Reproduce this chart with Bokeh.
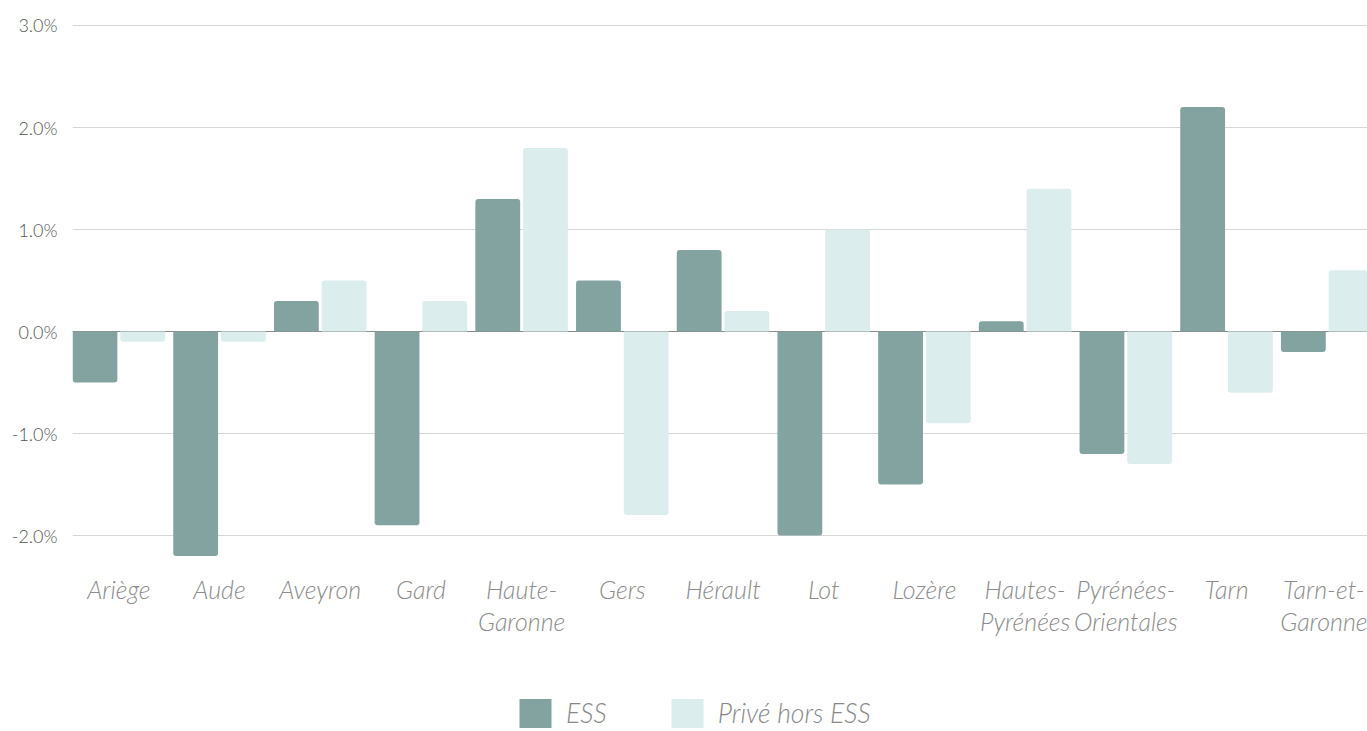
from bokeh.plotting import figure
from bokeh.layouts import column
from bokeh.models import (FixedTicker, PrintfTickFormatter, Span, Legend, LegendItem, Range1d)
from bokeh.embed import file_html
from bokeh.resources import INLINE

categories = ["Ariège", "Aude", "Aveyron", "Gard", "Haute-\nGaronne", "Gers", "Hérault",
              "Lot", "Lozère", "Hautes-\nPyrénées", "Pyrénées-\nOrientales", "Tarn",
              "Tarn-et-\nGaronne"]
ess = [-0.5, -2.2, 0.3, -1.9, 1.3, 0.5, 0.8, -2.0, -1.5, 0.1, -1.2, 2.2, -0.2]
prive = [-0.1, -0.1, 0.5, 0.3, 1.8, -1.8, 0.2, 1.0, -0.9, 1.4, -1.3, -0.6, 0.6]
y_ticks = [-2, -1, 0, 1, 2, 3]
series_names = ["ESS", "Privé hors ESS"]
colors = ["#82a39f", "#dbeeed"]

W = 1367
H1, H2 = 650, 81
p = figure(width=W, height=H1, output_backend="svg", toolbar_location=None,
           x_range=Range1d(-0.46, 12.40), y_range=Range1d(-2.245, 3.049),
           min_border_left=72, min_border_top=20, min_border_bottom=90, min_border_right=0)
p.outline_line_color = None
p.background_fill_color = "white"
p.border_fill_color = "white"

bar_w = 0.445
offsets = [-0.237, 0.237]
for vals, off, col in zip([ess, prive], offsets, colors):
    pos_x = [i + off for i, v in enumerate(vals) if v >= 0]
    pos_v = [v for v in vals if v >= 0]
    neg_x = [i + off for i, v in enumerate(vals) if v < 0]
    neg_v = [v for v in vals if v < 0]
    p.vbar(x=pos_x, top=pos_v, bottom=0, width=bar_w, fill_color=col,
           line_color=None, border_radius=(3, 3, 0, 0))
    p.vbar(x=neg_x, top=0, bottom=neg_v, width=bar_w, fill_color=col,
           line_color=None, border_radius=(0, 0, 3, 3))

p.add_layout(Span(location=0, dimension="width", line_color="#8a8a8a", line_width=1,
                  level="underlay"))

# axes
p.xaxis.ticker = FixedTicker(ticks=list(range(len(categories))))
p.xaxis.major_label_overrides = {i: c for i, c in enumerate(categories)}
p.xaxis.axis_line_color = None
p.xaxis.major_tick_line_color = None
p.xaxis.minor_tick_line_color = None
p.xaxis.major_label_text_font = "Lato Light"
p.xaxis.major_label_text_font_style = "italic"
p.xaxis.major_label_text_font_size = "25px"
p.xaxis.major_label_text_color = "#8c8c8c"
p.xaxis.major_label_text_line_height = 1.07
p.xaxis.major_label_standoff = 7
p.xgrid.grid_line_color = None

p.yaxis.ticker = FixedTicker(ticks=y_ticks)
p.yaxis.formatter = PrintfTickFormatter(format="%.1f%%")
p.yaxis.axis_line_color = None
p.yaxis.major_tick_line_color = None
p.yaxis.minor_tick_line_color = None
p.yaxis.major_label_text_font = "Lato Light"
p.yaxis.major_label_text_font_size = "18px"
p.yaxis.major_label_text_color = "#555555"
p.yaxis.major_label_standoff = 9
p.ygrid.ticker = FixedTicker(ticks=y_ticks)
p.ygrid.grid_line_color = "#d6d6d6"
p.ygrid.grid_line_width = 1

# legend figure (swatches only; its dummy glyphs have zero height)
lf = figure(width=W, height=H2, output_backend="svg", toolbar_location=None,
            x_range=Range1d(0, 1), y_range=Range1d(0, 1),
            min_border=0, x_axis_type=None, y_axis_type=None)
lf.outline_line_color = None
lf.xgrid.visible = False
lf.ygrid.visible = False
lrs = [lf.vbar(x=[-1], top=[0], bottom=[0], width=0.1, fill_color=c, line_color=None)
       for c in colors]
legend = Legend(items=[LegendItem(label=n, renderers=[r]) for n, r in zip(series_names, lrs)],
                orientation="horizontal", location=(443, 0))
legend.glyph_width = 40
legend.glyph_height = 36
legend.label_height = 36
legend.label_standoff = 11
legend.spacing = 60
legend.padding = 0
legend.margin = 0
legend.border_line_color = None
legend.background_fill_alpha = 0
legend.label_text_font = "Lato Light"
legend.label_text_font_style = "italic"
legend.label_text_font_size = "26.5px"
legend.label_text_color = "#888888"
lf.add_layout(legend, "center")

layout = column(p, lf, spacing=0)
open("out.html", "w").write(file_html(layout, INLINE))
